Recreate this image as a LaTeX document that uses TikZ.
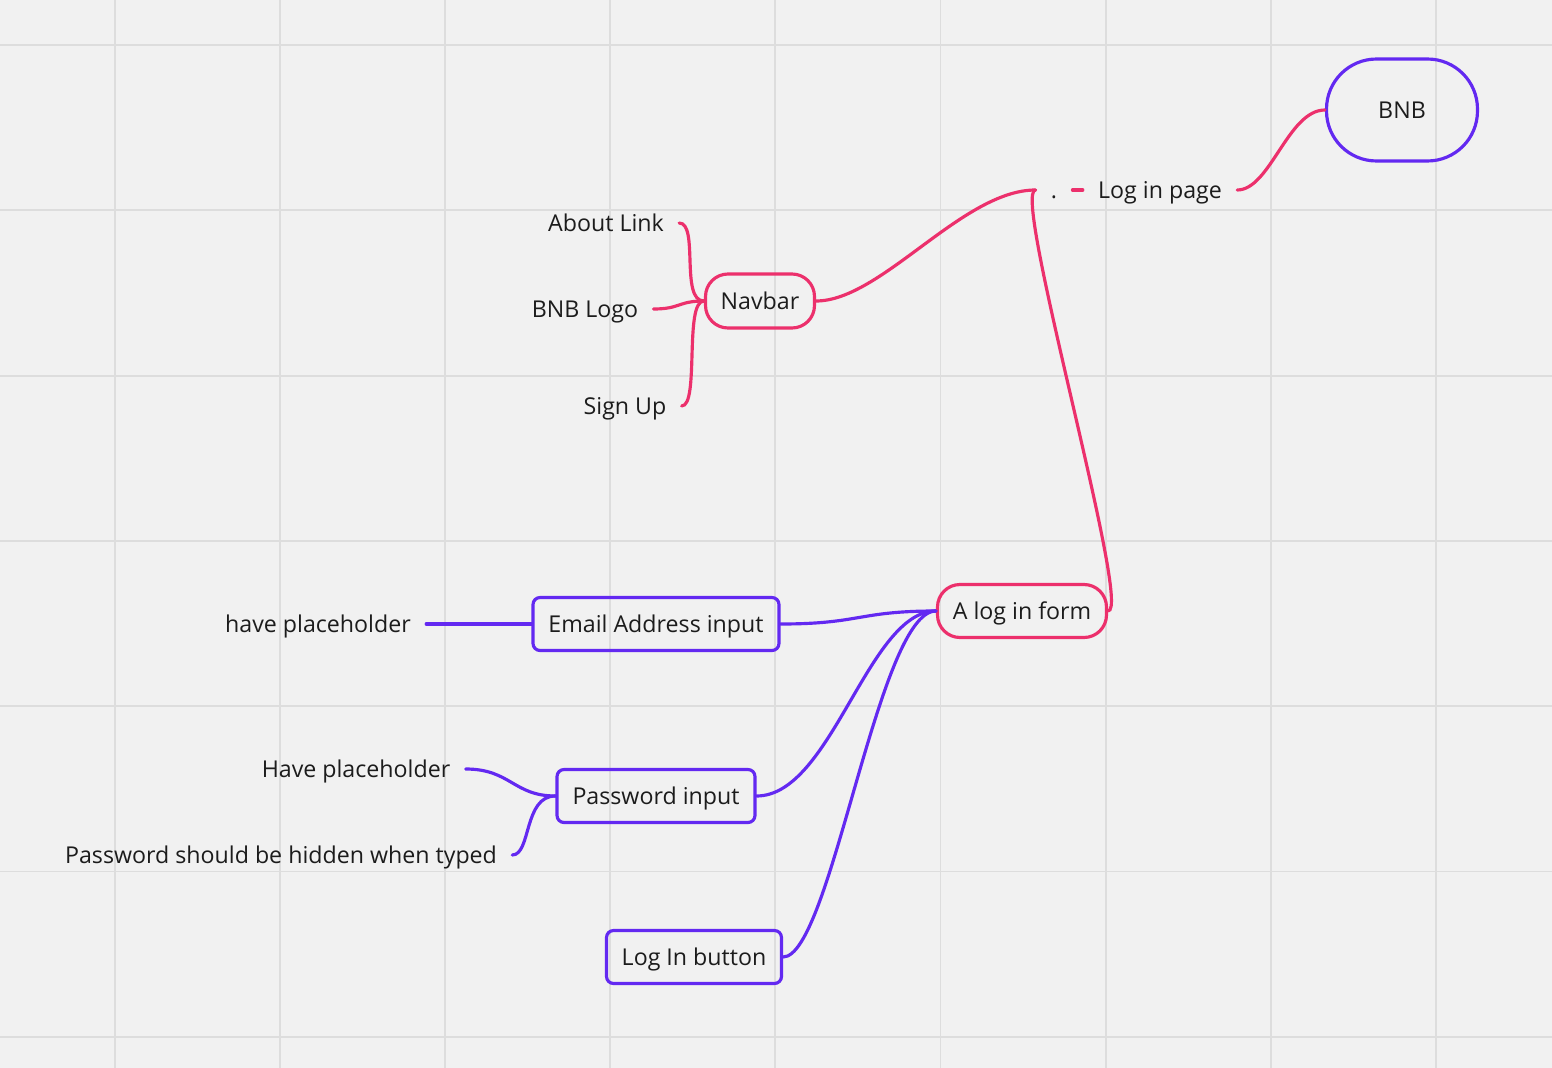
\documentclass[tikz,border=0pt]{standalone}
\usepackage{fontspec}
\setmainfont{Open Sans}

\definecolor{mappink}{RGB}{236,48,108}
\definecolor{mappurple}{RGB}{99,41,241}
\definecolor{gridgray}{RGB}{221,221,221}
\definecolor{paper}{RGB}{241,241,241}
\definecolor{ink}{RGB}{28,28,28}

\tikzset{
  maptext/.style={font=\fontsize{13.2}{16}\selectfont, text=ink, text height=10.5pt, text depth=1.1pt},
  leaf/.style={maptext, inner xsep=0.3cm, inner ysep=0pt},
  pinkbox/.style={maptext, draw=mappink, line width=1.8pt, rounded corners=0.45cm, inner sep=0pt},
  purplebox/.style={maptext, draw=mappurple, line width=1.8pt, rounded corners=0.14cm, inner sep=0pt},
  pinkline/.style={draw=mappink, line width=1.8pt, line cap=round},
  purpleline/.style={draw=mappurple, line width=1.8pt, line cap=round},
}

\begin{document}
\begin{tikzpicture}[x=0.02cm, y=-0.02cm]
    % board and grid
    \fill[paper] (0,0) rectangle (1552,1068);
    \useasboundingbox (0,0) rectangle (1552,1068);
    \foreach \gx in {0,...,8} \draw[gridgray, line width=1.1pt] (115+165.1*\gx,0) -- ++(0,1068);
    \foreach \gy in {0,...,6} \draw[gridgray, line width=1.1pt] (0,45+165.3*\gy) -- ++(1552,0);

    % nodes: bnb loginpage dot
    \node[purplebox, rounded corners=1cm, minimum width=3.02cm, minimum height=2.04cm] (bnb) at (1402,110) {BNB};
    \node[leaf] (loginpage) at (1160,190) {Log in page};
    \node[leaf] (dot) at (1054,190) {.};
    % nodes: navbar about logo signup
    \node[pinkbox, minimum width=2.18cm, minimum height=1.08cm] (navbar) at (760,301) {Navbar};
    \node[leaf] (about) at (606,223) {About Link};
    \node[leaf] (logo) at (585,309) {BNB Logo};
    \node[leaf] (signup) at (625,406) {Sign Up};
    % nodes: form email password button
    \node[pinkbox, minimum width=3.38cm, minimum height=1.06cm] (form) at (1022,611) {A log in form};
    \node[purplebox, minimum width=4.92cm, minimum height=1.06cm] (email) at (656,624) {Email Address input};
    \node[purplebox, minimum width=3.96cm, minimum height=1.06cm] (password) at (656,796) {Password input};
    \node[purplebox, minimum width=3.5cm, minimum height=1.06cm] (button) at (694,957) {Log In button};
    % nodes: placeholders and hidden
    \node[leaf] (emailhint) at (318,624) {have placeholder};
    \node[leaf] (passhint) at (356,769) {Have placeholder};
    \node[leaf] (hidden) at (281,855) {Password should be hidden when typed};

    % edges: loginpage-bnb, dot-loginpage
    \draw[pinkline] (loginpage.east) .. controls +(33,0) and +(-37,0) .. (bnb.west);
    \draw[pinkline] (dot.east) -- (loginpage.west);
    % edges: navbar-dot, form-dot
    \draw[pinkline] (navbar.east) .. controls +(65,0) and +(-73,0) .. (dot.west);
    \draw[pinkline] (form.east) .. controls +(25,0) and +(-25,0) .. (dot.west);
    % edges: about-navbar, logo-navbar, signup-navbar
    \draw[pinkline] (about.east) .. controls +(20,0) and +(-24,0) .. (navbar.west);
    \draw[pinkline] (logo.east) .. controls +(27,0) and +(-26,0) .. (navbar.west);
    \draw[pinkline] (signup.east) .. controls +(18,0) and +(-20,0) .. (navbar.west);
    % edges: email-form, password-form, button-form
    \draw[purpleline] (email.east) .. controls +(80,0) and +(-78,0) .. (form.west);
    \draw[purpleline] (password.east) .. controls +(75,0) and +(-68,0) .. (form.west);
    \draw[purpleline] (button.east) .. controls +(48,0) and +(-58,0) .. (form.west);
    % edges: hints-inputs
    \draw[purpleline] (emailhint.east) .. controls +(55,0) and +(-53,0) .. (email.west);
    \draw[purpleline] (passhint.east) .. controls +(45,0) and +(-42,0) .. (password.west);
    \draw[purpleline] (hidden.east) .. controls +(19,0) and +(-32,0) .. (password.west);
\end{tikzpicture}
\end{document}
